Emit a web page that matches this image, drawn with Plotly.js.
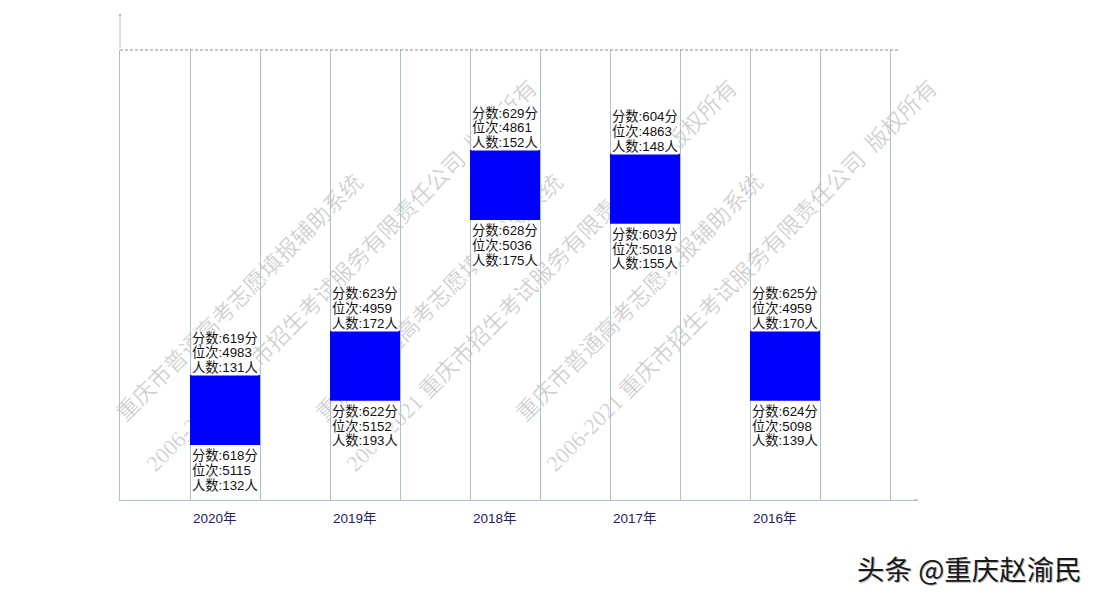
<!DOCTYPE html>
<html>
<head>
<meta charset="utf-8">
<script src="https://cdn.plot.ly/plotly-3.0.1.min.js"></script>
<style>
  html, body { margin:0; padding:0; background:#fff; }
  #wrap { position:relative; width:1100px; height:600px; }
  #chart { position:absolute; left:0; top:0; width:1100px; height:600px; }
  .wm {
    position:absolute; white-space:pre; pointer-events:none;
    font-family:'Liberation Serif','Noto Sans CJK SC',serif; font-size:22.5px;
    color:rgba(0,0,0,0.19);
    transform:translate(-50%,-50%) rotate(-45deg);
  }
</style>
</head>
<body>
<div id="wrap">
  <div id="wm"></div>
  <div id="chart"></div>
</div>
<script>
// years, left to right
const years      = ['2020年', '2019年', '2018年', '2017年', '2016年'];
// upper end of each box (better score)
const scoreHigh  = [619, 623, 629, 604, 625];
const rankHigh   = [4983, 4959, 4861, 4863, 4959];
const countHigh  = [131, 172, 152, 148, 170];
// lower end of each box
const scoreLow   = [618, 622, 628, 603, 624];
const rankLow    = [5115, 5152, 5036, 5018, 5098];
const countLow   = [132, 193, 175, 155, 139];

const wmLine1 = '重庆市普通高考志愿填报辅助系统';
const wmLine2 = '2006-2021 重庆市招生考试服务有限责任公司  版权所有';
const footer  = '头条 @重庆赵渝民';

// drawing constants
const BOX_SPAN = 38;          // box height in rank units (boxes are drawn at a fixed size)
const SLOT = 2;               // each year takes two grid columns
const LINE_H = 14.7;          // label line spacing, px
const GRID = '#a9c2ce';
const LABEL_FONT = { family:'Liberation Sans, Noto Sans CJK SC, sans-serif', size:13.3, color:'#111' };

onReady();

function drawWatermark(){
  // sits behind the (transparent) plot, so boxes and labels cover it
  const host = document.getElementById('wm');
  for (let k=0; k<3; k++){
    [[wmLine1, 238 + 200*k, 296], [wmLine2, 340 + 200*k, 274]].forEach(([t, x, y])=>{
      const d = document.createElement('div');
      d.className = 'wm';
      d.textContent = t;
      d.style.left = x + 'px';
      d.style.top = y + 'px';
      host.appendChild(d);
    });
  }
}

function onReady(){
  drawWatermark();
  const el = document.getElementById('chart');

  const xc = years.map((_, i) => SLOT*i + 1.5);

  const data = [{
    type:'bar',
    x: xc,
    y: years.map(() => BOX_SPAN),
    base: rankHigh,
    width: 1,
    marker:{ color:'#0000ff', line:{ width:0 } },
    hoverinfo:'none',
    showlegend:false
  }];

  const ann = [];

  // box labels
  years.forEach((_, i)=>{
    const top = ['分数:' + scoreHigh[i] + '分', '位次:' + rankHigh[i], '人数:' + countHigh[i] + '人'];
    const bot = ['分数:' + scoreLow[i] + '分', '位次:' + rankLow[i], '人数:' + countLow[i] + '人'];
    top.forEach((t, k)=>{
      ann.push({
        text:t, x: xc[i]-0.5, y: rankHigh[i], xref:'x', yref:'y',
        xanchor:'left', yanchor:'middle', xshift:1, yshift: 7.5 + (2-k)*LINE_H,
        showarrow:false, bgcolor:'#fff', borderpad:0, font:LABEL_FONT
      });
    });
    bot.forEach((t, k)=>{
      ann.push({
        text:t, x: xc[i]-0.5, y: rankHigh[i] + BOX_SPAN, xref:'x', yref:'y',
        xanchor:'left', yanchor:'middle', xshift:1, yshift: -(10.7 + k*LINE_H),
        showarrow:false, bgcolor:'#fff', borderpad:0, font:LABEL_FONT
      });
    });
    // year under the axis, left aligned with the box
    ann.push({
      text: years[i], x: xc[i]-0.5, y:-0.04, xref:'x', yref:'paper',
      xanchor:'left', yanchor:'middle', xshift:1, showarrow:false,
      font:{ family:'Liberation Sans, Noto Sans CJK SC, sans-serif', size:13.5, color:'#23235e' }
    });
  });

  // axis arrows
  ann.push({ x:0, y:1.082, xref:'x', yref:'paper', ax:0, ay:37, text:'',
             showarrow:true, arrowhead:2, arrowsize:0.6, arrowwidth:1, arrowcolor:GRID });
  ann.push({ x:11.4, y:0, xref:'x', yref:'paper', ax:-6, ay:0, text:'',
             showarrow:true, arrowhead:2, arrowsize:0.6, arrowwidth:1, arrowcolor:GRID });

  // footer mark
  ann.push({
    text: footer, xref:'paper', yref:'paper',
    x: (1084-120)/798, y: (500-568)/450, xanchor:'right', yanchor:'middle',
    showarrow:false,
    font:{ family:'Noto Sans CJK SC, sans-serif', size:27.5, color:'#1a1a1a', shadow:'1px 1px 0px #bbb' }
  });

  const layout = {
    width:1100, height:600,
    margin:{ l:120, r:182, t:50, b:100 },
    paper_bgcolor:'rgba(0,0,0,0)', plot_bgcolor:'rgba(0,0,0,0)',
    showlegend:false,
    xaxis:{
      range:[0, 11.4], tick0:0, dtick:1,
      showgrid:true, gridcolor:GRID, gridwidth:1,
      zeroline:false, showticklabels:false, ticks:'',
      showline:true, linecolor:GRID, linewidth:1, fixedrange:true
    },
    yaxis:{
      range:[5050.8, 4806.8],
      showgrid:false, zeroline:false, showticklabels:false, ticks:'',
      showline:true, linecolor:GRID, linewidth:1, fixedrange:true
    },
    shapes:[{
      type:'line', xref:'x', yref:'paper', x0:0, x1:11.14, y0:1, y1:1,
      line:{ color:'#8a8a8a', width:1, dash:'3px,2px' }
    }],
    annotations: ann
  };

  Plotly.newPlot(el, data, layout, { displayModeBar:false, staticPlot:true });
}
</script>
</body>
</html>
